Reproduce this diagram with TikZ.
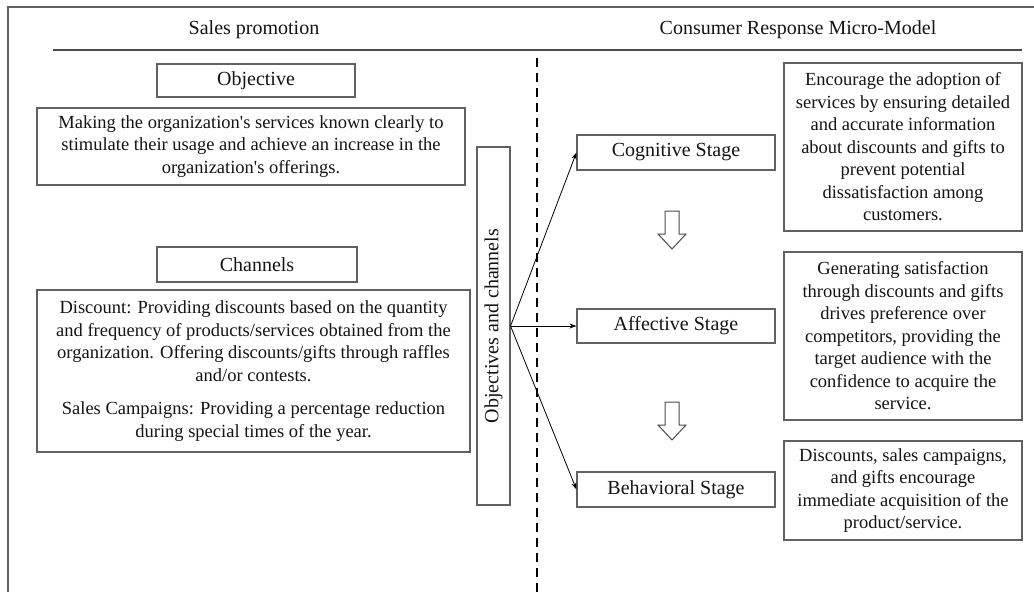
\documentclass[tikz,border=0pt]{standalone}
\usepackage{fontspec}
\setmainfont{Liberation Serif}[Ligatures=TeXOff]
\usetikzlibrary{arrows.meta}
\begin{document}
\begin{tikzpicture}[x=1pt,y=-1pt,
  outline/.style={draw=black!62, line width=1.1pt},
  box/.style={outline, inner sep=0pt, align=center, text=black!92,
    font=\fontsize{18.5}{22.5}\selectfont},
  title/.style={box, font=\fontsize{20}{22}\selectfont},
  heading/.style={inner sep=0pt, text=black!92, font=\fontsize{20}{22}\selectfont},
  link/.style={-{Stealth[length=7pt,width=5pt]}, line width=0.8pt, black},
  hollow/.style={draw=black!70, line width=1pt, fill=white},
  divider/.style={black, line width=2.2pt, dash pattern=on 9pt off 6pt}
]
\useasboundingbox (0,0) rectangle (1034,592);

% outer frame (open on the right and at the bottom)
\draw[outline] (8,592) -- (8,7) -- (1034,7);

% column headings and rule
\node[heading] (hsales) at (254,30) {Sales promotion};
\node[heading] (hcons) at (798,30) {Consumer Response Micro-Model};
\draw[black!70, line width=1.1pt] (53,50) -- (1022,50);

% dashed divider between the two columns
\draw[divider] (537,58) -- (537,592);

% left column
\node[title, minimum width=198, minimum height=33] (obj) at (256,80.5) {Objective};
\node[box, minimum width=428, minimum height=77] (objtext) at (251,146.5)
  {Making the organization's services known clearly to\\
   stimulate their usage and achieve an increase in the\\
   organization's offerings.};
\node[title, minimum width=200, minimum height=35] (chan) at (257,264.5) {Channels};
\node[box, minimum width=433, minimum height=162] (chantext) at (253.5,371)
  {Discount: Providing discounts based on the quantity\\
   and frequency of products/services obtained from the\\
   organization. Offering discounts/gifts through raffles\\
   and/or contests.\\[11pt]
   Sales Campaigns: Providing a percentage reduction\\
   during special times of the year.};

% vertical summary box
\node[title, rotate=90, minimum width=358, minimum height=33] (vert) at (493.5,326)
  {Objectives and channels};
\coordinate (fan) at (vert.south);

% stages
\node[title, minimum width=198, minimum height=35] (cog) at (676,152.5) {Cognitive Stage};
\node[title, minimum width=198, minimum height=34] (aff) at (676,326) {Affective Stage};
\node[title, minimum width=198, minimum height=35] (beh) at (676,489.5) {Behavioral Stage};

\draw[link] (fan) -- (cog.west);
\draw[link] (fan) -- (aff.west);
\draw[link] (fan) -- (beh.west);

% hollow down arrows between stages
\foreach \n/\y in {a1/211, a2/402}{
  \draw[hollow] (665,\y) -- (679,\y) -- (679,\y+23) -- (686,\y+23) -- (672,\y+38)
    -- (658,\y+23) -- (665,\y+23) -- cycle;
}

% stage descriptions
\node[box, minimum width=238, minimum height=168] (dcog) at (903,147)
  {Encourage the adoption of\\
   services by ensuring detailed\\
   and accurate information\\
   about discounts and gifts to\\
   prevent potential\\
   dissatisfaction among\\
   customers.};
\node[box, minimum width=238, minimum height=168] (daff) at (903,336)
  {Generating satisfaction\\
   through discounts and gifts\\
   drives preference over\\
   competitors, providing the\\
   target audience with the\\
   confidence to acquire the\\
   service.};
\node[box, minimum width=238, minimum height=99] (dbeh) at (903,490.5)
  {Discounts, sales campaigns,\\
   and gifts encourage\\
   immediate acquisition of the\\
   product/service.};
\end{tikzpicture}
\end{document}
